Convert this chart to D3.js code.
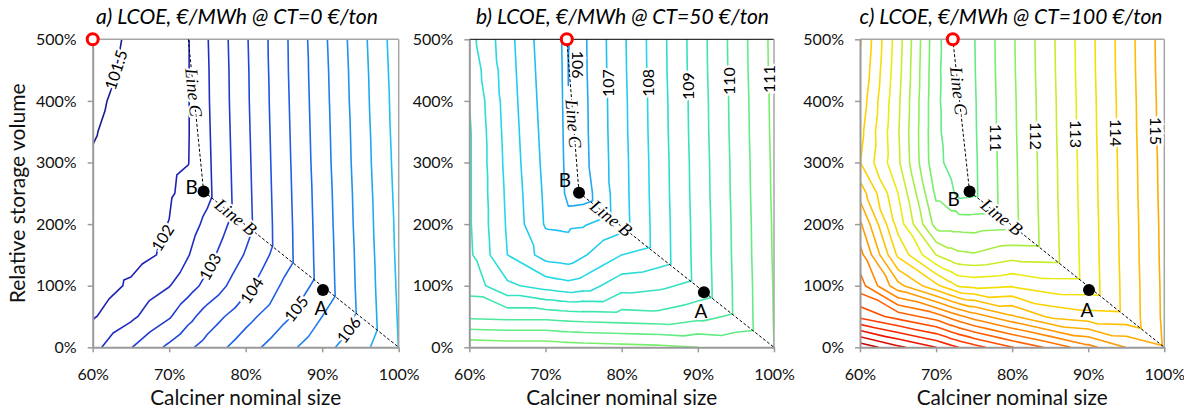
<!DOCTYPE html>
<html>
<head>
<meta charset="utf-8">
<script src="https://d3js.org/d3.v7.min.js"></script>
<style>
  html, body { margin: 0; padding: 0; background: #fff; }
  svg { display: block; }
</style>
</head>
<body>
<svg id="chart" width="1184" height="410"></svg>
<script>
// ---------------------------------------------------------------------------
// LCOE grids (EUR/MWh) over calciner nominal size (%) x relative storage volume (%)
// rows follow storageNodes (bottom to top), columns follow the size nodes
// ---------------------------------------------------------------------------
const storageNodes = [0, 50, 100, 150, 200, 250, 300, 350, 400, 450, 500];
const sizeNodesCT0 = [60, 65, 70, 72.5, 75, 80, 85, 90, 95, 100];
const sizeNodesCT50 = [60, 65, 70, 72, 73, 75, 80, 85, 90, 95, 100];
const sizeNodesCT100 = [60, 65, 70, 72, 73, 75, 80, 85, 90, 95, 100];

const lcoeCT0 = [
  [102.35, 102.98, 103.60, 103.91, 104.20, 104.78, 105.32, 105.83, 106.32, 107.01],
  [101.95, 102.40, 102.95, 103.35, 103.73, 104.33, 104.90, 105.50, 106.10, 107.04],
  [101.70, 102.08, 102.48, 102.80, 103.15, 103.85, 104.58, 105.19, 106.13, 107.07],
  [101.65, 101.80, 102.10, 102.48, 102.85, 103.54, 104.28, 105.21, 106.15, 107.10],
  [101.62, 101.75, 102.01, 102.30, 102.62, 103.33, 104.29, 105.23, 106.18, 107.12],
  [101.60, 101.75, 101.95, 102.12, 102.39, 103.35, 104.31, 105.25, 106.20, 107.15],
  [101.54, 101.72, 101.92, 101.99, 102.41, 103.37, 104.33, 105.28, 106.23, 107.18],
  [101.47, 101.69, 101.91, 101.98, 102.43, 103.39, 104.35, 105.30, 106.25, 107.21],
  [101.41, 101.65, 101.90, 101.98, 102.45, 103.41, 104.37, 105.32, 106.28, 107.23],
  [101.34, 101.61, 101.88, 101.98, 102.46, 103.42, 104.39, 105.34, 106.30, 107.26],
  [101.28, 101.57, 101.86, 101.98, 102.48, 103.44, 104.40, 105.37, 106.33, 107.29]
];

const lcoeCT50 = [
  [111.35, 111.30, 111.30, 111.25, 111.23, 111.20, 111.15, 111.10, 111.00, 110.90, 111.00],
  [109.90, 109.85, 109.85, 109.80, 109.78, 109.75, 109.70, 109.65, 109.85, 110.08, 111.02],
  [109.30, 108.60, 108.30, 108.20, 108.15, 108.25, 108.80, 108.90, 109.15, 110.09, 111.03],
  [109.10, 108.00, 107.30, 107.25, 107.22, 107.45, 108.00, 108.23, 109.17, 110.11, 111.05],
  [109.06, 107.94, 106.95, 106.93, 106.92, 106.95, 107.30, 108.24, 109.18, 110.12, 111.06],
  [109.06, 107.90, 106.91, 106.80, 106.20, 106.25, 107.32, 108.26, 109.20, 110.14, 111.08],
  [109.06, 107.85, 106.86, 106.75, 106.10, 106.36, 107.33, 108.27, 109.21, 110.15, 111.09],
  [109.06, 107.81, 106.82, 106.70, 106.05, 106.38, 107.35, 108.29, 109.23, 110.17, 111.11],
  [109.00, 107.77, 106.78, 106.66, 106.01, 106.39, 107.36, 108.30, 109.24, 110.18, 111.12],
  [108.85, 107.73, 106.74, 106.62, 105.99, 106.41, 107.38, 108.32, 109.26, 110.20, 111.14],
  [108.68, 107.69, 106.70, 106.58, 105.98, 106.42, 107.39, 108.33, 109.27, 110.21, 111.15]
];

const lcoeCT100 = [
  [120.35, 119.62, 119.00, 118.65, 118.49, 118.20, 117.52, 116.88, 116.17, 115.48, 115.05],
  [117.87, 117.30, 116.75, 116.33, 116.13, 115.77, 115.07, 114.40, 114.20, 114.15, 115.10],
  [116.72, 115.16, 114.12, 113.66, 113.43, 113.35, 113.45, 113.22, 113.21, 114.16, 115.11],
  [116.20, 113.90, 112.50, 112.20, 112.10, 112.05, 112.30, 112.27, 113.23, 114.18, 115.13],
  [115.60, 113.30, 111.30, 111.30, 111.30, 111.28, 111.34, 112.29, 113.24, 114.19, 115.14],
  [114.80, 113.00, 110.90, 110.60, 110.35, 110.41, 111.36, 112.31, 113.26, 114.21, 115.16],
  [114.02, 112.60, 110.62, 110.38, 110.28, 110.42, 111.37, 112.32, 113.27, 114.22, 115.17],
  [114.15, 112.55, 110.60, 110.30, 110.25, 110.44, 111.39, 112.34, 113.29, 114.24, 115.19],
  [114.30, 112.60, 110.60, 110.25, 110.23, 110.45, 111.40, 112.35, 113.30, 114.25, 115.20],
  [114.45, 112.68, 110.62, 110.22, 110.22, 110.47, 111.42, 112.37, 113.32, 114.27, 115.22],
  [114.55, 112.73, 110.65, 110.20, 110.22, 110.48, 111.43, 112.38, 113.33, 114.28, 115.23]
];

// contour levels drawn in each panel
const levelsCT0 = [101.5, 102, 102.5, 103, 103.5, 104, 104.5, 105, 105.5, 106, 106.5, 107];
const levelsCT50 = [106, 106.5, 107, 107.5, 108, 108.5, 109, 109.5, 110, 110.5, 111];
const levelsCT100 = [110.5, 111, 111.5, 112, 112.5, 113, 113.5, 114, 114.5, 115, 115.5,
                     116, 116.5, 117, 117.5, 118, 118.5, 119, 119.5, 120];

// axis ticks
const sizeTicks = [60, 70, 80, 90, 100];
const storageTicks = [0, 100, 200, 300, 400, 500];

const panelTitles = [
  "a) LCOE, €/MWh @ CT=0 €/ton",
  "b) LCOE, €/MWh @ CT=50 €/ton",
  "c) LCOE, €/MWh @ CT=100 €/ton"
];

// design points (size %, storage %)
const pointA = [[90.1, 93], [90.8, 89.5], [90.1, 93]];
const pointB = [[74.5, 253], [74.4, 251], [74.4, 253]];
const optimumPoint = [[60, 500], [72.8, 500], [72.2, 500]];
const lineCTop = [[72.5, 500], [72.8, 500], [72.2, 500]];
const lineBEnd = [[100, 0], [100, 0], [100, 0]];

// contour labels: level, point it sits near (size %, storage %), text angle
const contourLabelsCT0 = [
  { level: 101.5, near: [62.9, 451], angle: -72 },
  { level: 102, near: [69.7, 175], angle: -58 },
  { level: 103, near: [75.2, 132], angle: -61 },
  { level: 104, near: [81.0, 91], angle: -56 },
  { level: 105, near: [86.7, 62], angle: -52 },
  { level: 106, near: [93.4, 29], angle: -52 }
];
const contourLabelsCT50 = [
  { level: 106, near: [74.3, 459], angle: 90, free: true },
  { level: 107, near: [78.2, 429], angle: -90 },
  { level: 108, near: [82.8, 429], angle: -90 },
  { level: 109, near: [88.7, 424], angle: -90 },
  { level: 110, near: [93.5, 432], angle: -90 },
  { level: 111, near: [98.5, 435], angle: -90 }
];
const contourLabelsCT100 = [
  { level: 111, near: [78.1, 340], angle: 90 },
  { level: 112, near: [82.7, 343], angle: 90 },
  { level: 113, near: [87.7, 346], angle: 90 },
  { level: 114, near: [93.6, 348], angle: 90 },
  { level: 115, near: [98.2, 351], angle: 90 }
];

// line colour ramp by LCOE value
const rampValues = [101.5, 102, 103, 104, 105, 106, 107, 108, 109, 110,
                    111, 112, 113, 114, 115, 116, 117, 118, 119, 120];
const rampColors = ["#1a1a8e", "#1e22b2", "#1f3ad0", "#2052e2", "#1f6cea", "#1f92f0",
                    "#1fc0f2", "#24d8e8", "#34e2c2", "#4ee89c", "#78ee6e", "#a8ee44",
                    "#e8ec10", "#ffd000", "#ffac00", "#ff8800", "#ff6000", "#ff3a00",
                    "#ec1400", "#c40000"];

// ---------------------------------------------------------------------------
// page layout
// ---------------------------------------------------------------------------
const W = 1184, H = 410;
const plotTop = 39.3, plotBottom = 347.3;
const frames = [
  { x0: 92.7, x1: 398.7, titleX: 237, titleWidth: 282, topStroke: "#a6a6a6",
    bOff: [-12, -5], aOff: [-2, 17], lineCLabelT: 0.35 },
  { x0: 469.3, x1: 774, titleX: 622.5, titleWidth: 293, topStroke: "#000",
    bOff: [-14, -13], aOff: [-3, 18], lineCLabelT: 0.55 },
  { x0: 860, x1: 1164.3, titleX: 1011, titleWidth: 303, topStroke: "#a6a6a6",
    bOff: [-16, 7], aOff: [-2, 19], lineCLabelT: 0.34 }
];
const sansFont = "Lato, 'Open Sans', sans-serif";
const serifFont = "'Liberation Serif', 'DejaVu Serif', serif";

const panels = [
  { sizes: sizeNodesCT0, grid: lcoeCT0, levels: levelsCT0, labels: contourLabelsCT0 },
  { sizes: sizeNodesCT50, grid: lcoeCT50, levels: levelsCT50, labels: contourLabelsCT50 },
  { sizes: sizeNodesCT100, grid: lcoeCT100, levels: levelsCT100, labels: contourLabelsCT100 }
];

const color = d3.scaleLinear().domain(rampValues).range(rampColors).clamp(true);

// marching triangles: each grid cell is split along its top-left / bottom-right diagonal
function isoSegments(xs, ys, grid, level) {
  const segs = [];
  function tri(a, b, c) {
    const pts = [];
    [[a, b], [b, c], [c, a]].forEach(([p, q]) => {
      const sp = p[2] >= level, sq = q[2] >= level;
      if (sp !== sq) {
        const t = (level - p[2]) / (q[2] - p[2]);
        pts.push([p[0] + t * (q[0] - p[0]), p[1] + t * (q[1] - p[1])]);
      }
    });
    if (pts.length === 2) segs.push(pts);
  }
  for (let j = 0; j < ys.length - 1; j++) {
    for (let i = 0; i < xs.length - 1; i++) {
      const p00 = [xs[i], ys[j], grid[j][i]];
      const p10 = [xs[i + 1], ys[j], grid[j][i + 1]];
      const p01 = [xs[i], ys[j + 1], grid[j + 1][i]];
      const p11 = [xs[i + 1], ys[j + 1], grid[j + 1][i + 1]];
      tri(p00, p10, p01);
      tri(p11, p01, p10);
    }
  }
  return segs;
}

const svg = d3.select("#chart");
svg.append("rect").attr("width", W).attr("height", H).attr("fill", "#fff");
const defs = svg.append("defs");

panels.forEach((p, k) => {
  const f = frames[k];
  const x = d3.scaleLinear().domain([60, 100]).range([f.x0, f.x1]);
  const y = d3.scaleLinear().domain([0, 500]).range([plotBottom, plotTop]);
  const g = svg.append("g");

  defs.append("clipPath").attr("id", "plot-clip-" + k)
    .append("rect").attr("x", f.x0).attr("y", plotTop)
    .attr("width", f.x1 - f.x0).attr("height", plotBottom - plotTop);

  // contour lines
  const cg = g.append("g").attr("clip-path", `url(#plot-clip-${k})`);
  const segsByLevel = new Map();
  p.levels.forEach(lv => {
    const segs = isoSegments(p.sizes, storageNodes, p.grid, lv);
    segsByLevel.set(lv, segs);
    const path = d3.path();
    segs.forEach(([a, b]) => {
      path.moveTo(x(a[0]), y(a[1]));
      path.lineTo(x(b[0]), y(b[1]));
    });
    cg.append("path").attr("d", path.toString())
      .attr("fill", "none").attr("stroke", color(lv))
      .attr("stroke-width", 1.6).attr("stroke-linecap", "round");
  });

  // frame: top and right edges
  g.append("line").attr("x1", f.x0).attr("x2", f.x1).attr("y1", plotTop).attr("y2", plotTop)
    .attr("stroke", f.topStroke).attr("stroke-width", f.topStroke === "#000" ? 1 : 1.5);
  g.append("line").attr("x1", f.x1).attr("x2", f.x1).attr("y1", plotTop).attr("y2", plotBottom)
    .attr("stroke", "#a6a6a6").attr("stroke-width", 1.5);

  // axes
  const axL = d3.axisLeft(y).tickValues(storageTicks).tickSize(5).tickSizeOuter(0)
    .tickPadding(11).tickFormat(d => d + "%");
  const gl = g.append("g").attr("transform", `translate(${f.x0},0)`).call(axL);
  const axB = d3.axisBottom(x).tickValues(sizeTicks).tickSize(5).tickSizeOuter(0)
    .tickPadding(16).tickFormat(d => d + "%");
  const gb = g.append("g").attr("transform", `translate(0,${plotBottom})`).call(axB);
  [gl, gb].forEach(ax => {
    ax.select(".domain").attr("stroke", "#9a9a9a").attr("stroke-width", 2);
    ax.selectAll(".tick line").attr("stroke", "#9a9a9a").attr("stroke-width", 1.5);
    ax.selectAll(".tick text").attr("font-family", sansFont).attr("font-size", 16).attr("fill", "#111");
  });

  // panel title
  g.append("text").attr("x", f.titleX).attr("y", 24).attr("text-anchor", "middle")
    .attr("font-family", sansFont).attr("font-style", "italic").attr("font-size", 21.2)
    .attr("textLength", f.titleWidth).attr("lengthAdjust", "spacingAndGlyphs")
    .attr("fill", "#000").text(panelTitles[k]);

  // x-axis title
  g.append("text").attr("x", (f.x0 + f.x1) / 2).attr("y", 405).attr("text-anchor", "middle")
    .attr("font-family", sansFont).attr("font-size", 20.5).attr("fill", "#111")
    .attr("textLength", 191).attr("lengthAdjust", "spacingAndGlyphs")
    .text("Calciner nominal size");

  // contour labels
  p.labels.forEach(lb => {
    let px = x(lb.near[0]), py = y(lb.near[1]);
    if (!lb.free) {
      const tx = px, ty = py;
      let best = Infinity;
      segsByLevel.get(lb.level).forEach(([a, b]) => {
        const ax = x(a[0]), ay = y(a[1]), bx = x(b[0]), by = y(b[1]);
        const dx = bx - ax, dy = by - ay, l2 = dx * dx + dy * dy || 1e-9;
        const t = Math.max(0, Math.min(1, ((tx - ax) * dx + (ty - ay) * dy) / l2));
        const qx = ax + t * dx, qy = ay + t * dy;
        const d = (qx - tx) ** 2 + (qy - ty) ** 2;
        if (d < best) { best = d; px = qx; py = qy; }
      });
    }
    g.append("text")
      .attr("transform", `translate(${px},${py}) rotate(${lb.angle})`)
      .attr("text-anchor", "middle").attr("dominant-baseline", "central")
      .attr("font-family", sansFont).attr("font-size", 16).attr("fill", "#000")
      .attr("stroke", "#fff").attr("stroke-width", 5).attr("paint-order", "stroke")
      .text(String(lb.level));
  });

  // dashed guide lines B and C
  const bx = x(pointB[k][0]), by = y(pointB[k][1]);
  const ex = x(lineBEnd[k][0]), ey = y(lineBEnd[k][1]);
  const cx = x(lineCTop[k][0]), cy = y(lineCTop[k][1]);
  [[bx, by, ex, ey], [cx, cy, bx, by]].forEach(([x1, y1, x2, y2]) => {
    g.append("line").attr("x1", x1).attr("y1", y1).attr("x2", x2).attr("y2", y2)
      .attr("stroke", "#000").attr("stroke-width", 1).attr("stroke-dasharray", "3,2");
  });

  // guide line labels
  const tB = 0.165;
  const angB = Math.atan2(ey - by, ex - bx) * 180 / Math.PI;
  g.append("text")
    .attr("transform", `translate(${bx + tB * (ex - bx)},${by + tB * (ey - by)}) rotate(${angB})`)
    .attr("text-anchor", "middle").attr("dominant-baseline", "central")
    .attr("font-family", serifFont).attr("font-style", "italic").attr("font-size", 18)
    .attr("fill", "#000").attr("stroke", "#fff").attr("stroke-width", 4).attr("paint-order", "stroke")
    .text("Line B");
  const tC = f.lineCLabelT;
  const angC = Math.atan2(by - cy, bx - cx) * 180 / Math.PI;
  g.append("text")
    .attr("transform", `translate(${cx + tC * (bx - cx)},${cy + tC * (by - cy)}) rotate(${angC})`)
    .attr("text-anchor", "middle").attr("dominant-baseline", "central")
    .attr("font-family", serifFont).attr("font-style", "italic").attr("font-size", 18)
    .attr("fill", "#000").attr("stroke", "#fff").attr("stroke-width", 4).attr("paint-order", "stroke")
    .text("Line C");

  // design points
  const ax = x(pointA[k][0]), ay = y(pointA[k][1]);
  g.append("circle").attr("cx", bx).attr("cy", by).attr("r", 6).attr("fill", "#000");
  g.append("circle").attr("cx", ax).attr("cy", ay).attr("r", 6).attr("fill", "#000");
  g.append("text").attr("x", bx + f.bOff[0]).attr("y", by + f.bOff[1])
    .attr("text-anchor", "middle").attr("dominant-baseline", "central")
    .attr("font-family", sansFont).attr("font-size", 19).attr("fill", "#000").text("B");
  g.append("text").attr("x", ax + f.aOff[0]).attr("y", ay + f.aOff[1])
    .attr("text-anchor", "middle").attr("dominant-baseline", "central")
    .attr("font-family", sansFont).attr("font-size", 19).attr("fill", "#000").text("A");

  // optimum marker
  g.append("circle").attr("cx", x(optimumPoint[k][0])).attr("cy", y(optimumPoint[k][1]))
    .attr("r", 5.5).attr("fill", "#fff").attr("stroke", "#ff0000").attr("stroke-width", 3);
});

// y-axis title (shared, left of first panel)
svg.append("text").attr("transform", `translate(17,${(plotTop + plotBottom) / 2}) rotate(-90)`)
  .attr("text-anchor", "middle").attr("dominant-baseline", "central")
  .attr("font-family", sansFont).attr("font-size", 20.5).attr("fill", "#111")
  .attr("textLength", 220).attr("lengthAdjust", "spacingAndGlyphs")
  .text("Relative storage volume");
</script>
</body>
</html>
